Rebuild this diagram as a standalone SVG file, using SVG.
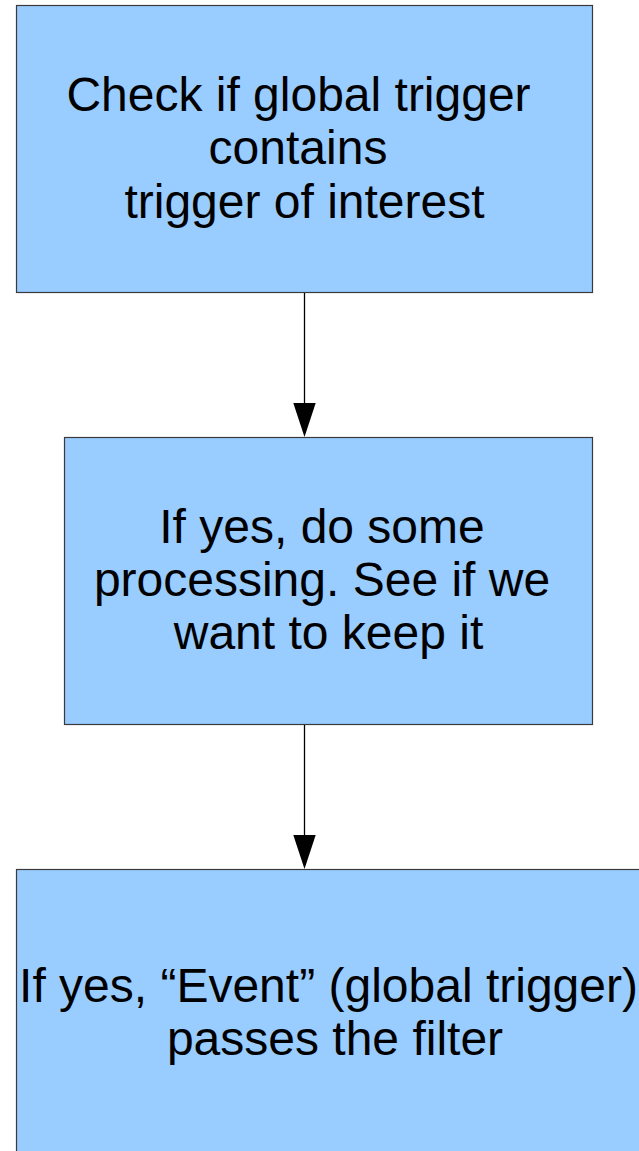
<svg xmlns="http://www.w3.org/2000/svg" width="639" height="1151" viewBox="0 0 639 1151">
<style>
.box{fill:#99ccff;stroke:#3a3a3a;stroke-width:1.2}
.t{font-family:"Liberation Sans",Arial,sans-serif;font-size:48px;fill:#000;text-anchor:middle}
.c{stroke:#000;stroke-width:1.3;fill:none}
.ah{fill:#000}
</style>
<rect width="639" height="1151" fill="#fff"/>
<g id="node1">
<rect class="box" x="16.5" y="5.5" width="576" height="287"/>
<text class="t"><tspan x="298.5" y="110.5">Check if global trigger</tspan><tspan x="298" y="164">contains</tspan><tspan x="304.5" y="217.5">trigger of interest</tspan></text>
</g>
<g id="node2">
<rect class="box" x="64.5" y="437.5" width="528" height="287"/>
<text class="t"><tspan x="322" y="543">If yes, do some</tspan><tspan x="322" y="596">processing. See if we</tspan><tspan x="328.5" y="649">want to keep it</tspan></text>
</g>
<g id="node3">
<rect class="box" x="16.5" y="869.5" width="640" height="300"/>
<text class="t"><tspan x="328.5" y="1001.5">If yes, “Event” (global trigger)</tspan><tspan x="335" y="1055">passes the filter</tspan></text>
</g>
<g id="connectors">
<line class="c" x1="304.5" y1="293" x2="304.5" y2="404"/>
<polygon class="ah" points="293.3,403 315.7,403 304.5,437"/>
<line class="c" x1="304.5" y1="725" x2="304.5" y2="836"/>
<polygon class="ah" points="293.3,835 315.7,835 304.5,869"/>
</g>
</svg>
